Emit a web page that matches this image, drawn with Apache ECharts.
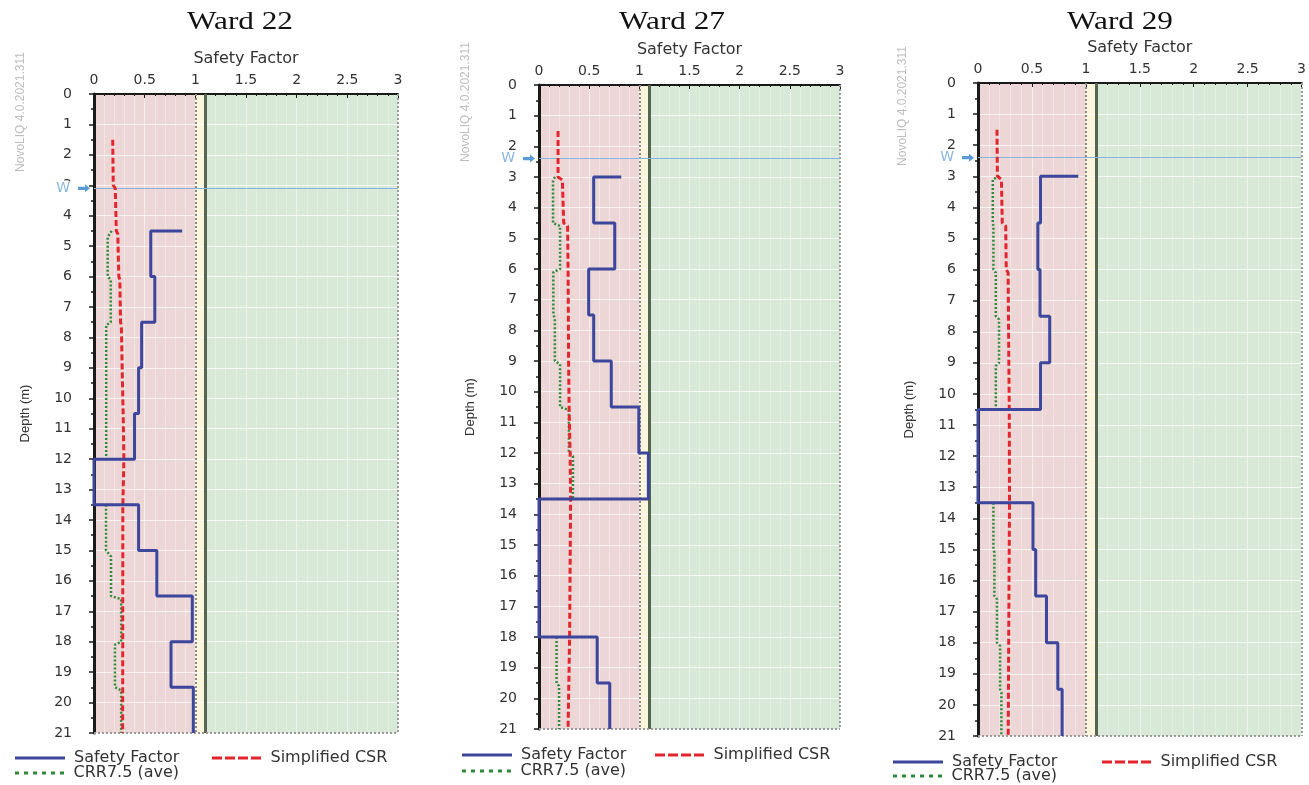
<!DOCTYPE html>
<html><head><meta charset="utf-8">
<script src="https://cdn.jsdelivr.net/npm/echarts@6/dist/echarts.min.js"></script>
<style>html,body{margin:0;padding:0;background:#fff}#c{width:1309px;height:785px}</style>
</head><body><div id="c"></div>
<script>
// ---------- data ----------
const wardNames = ['Ward 22', 'Ward 27', 'Ward 29'];
const xAxisName = 'Safety Factor';
const yAxisName = 'Depth (m)';
const watermark = 'NovoLIQ 4.0.2021.311';
const xMin = 0, xMax = 3, xStep = 0.5;
const depthMin = 0, depthMax = 21, depthStep = 1;
const zoneEdges = [0, 1, 1.1, 3];          // liquefiable / marginal / safe zones
const waterDepth = [3.1, 2.4, 2.4];        // "W" water table depth per ward
const seriesNames = ['Safety Factor', 'Simplified CSR', 'CRR7.5 (ave)'];

// Ward 22
const sf22Depth  = [4.5, 4.5, 6, 6, 7.5, 7.5, 9, 9, 10.5, 10.5, 12, 12, 13.5, 13.5, 15, 15, 16.5, 16.5, 18, 18, 19.5, 19.5, 21];
const sf22Value  = [0.87, 0.56, 0.56, 0.60, 0.60, 0.47, 0.47, 0.44, 0.44, 0.40, 0.40, 0, 0, 0.44, 0.44, 0.62, 0.62, 0.97, 0.97, 0.76, 0.76, 0.98, 0.98];
const csr22Depth = [1.5, 3, 3.1, 4.5, 4.6, 6, 6.1, 7.5, 7.6, 9, 10.5, 12, 13.5, 21];
const csr22Value = [0.185, 0.19, 0.21, 0.22, 0.235, 0.245, 0.255, 0.262, 0.27, 0.278, 0.288, 0.295, 0.285, 0.283];
const crr22Depth = [4.5, 4.7, 6, 6.1, 7.5, 7.6, 12, null, 13.5, 15, 15.2, 16.5, 16.6, 18, 18.1, 19.5, 19.6, 21];
const crr22Value = [0.175, 0.135, 0.135, 0.165, 0.165, 0.12, 0.12, null, 0.118, 0.118, 0.168, 0.168, 0.268, 0.268, 0.207, 0.207, 0.268, 0.268];

// Ward 27
const sf27Depth  = [3, 3, 4.5, 4.5, 6, 6, 7.5, 7.5, 9, 9, 10.5, 10.5, 12, 12, 13.5, 13.5, 18, 18, 19.5, 19.5, 21];
const sf27Value  = [0.82, 0.545, 0.545, 0.755, 0.755, 0.495, 0.495, 0.545, 0.545, 0.72, 0.72, 0.995, 0.995, 1.09, 1.09, 0, 0, 0.58, 0.58, 0.705, 0.705];
const csr27Depth = [1.5, 3, 3.1, 4.5, 4.6, 6, 9, 10.5, 12, 13.5, 18, 21];
const csr27Value = [0.19, 0.19, 0.233, 0.246, 0.285, 0.29, 0.295, 0.3, 0.31, 0.315, 0.305, 0.29];
const crr27Depth = [3, 3.1, 4.5, 4.6, 6, 6.1, 7.5, 7.6, 9, 9.1, 10.5, 10.6, 12, 12.1, 13.5, null, 18, 19.5, 19.6, 21];
const crr27Value = [0.16, 0.14, 0.14, 0.21, 0.21, 0.143, 0.143, 0.158, 0.158, 0.21, 0.21, 0.298, 0.298, 0.338, 0.338, null, 0.175, 0.175, 0.2, 0.2];

// Ward 29
const sf29Depth  = [3, 3, 4.5, 4.5, 6, 6, 7.5, 7.5, 9, 9, 10.5, 10.5, 13.5, 13.5, 15, 15, 16.5, 16.5, 18, 18, 19.5, 19.5, 21];
const sf29Value  = [0.93, 0.58, 0.58, 0.555, 0.555, 0.575, 0.575, 0.665, 0.665, 0.58, 0.58, 0, 0, 0.51, 0.51, 0.535, 0.535, 0.635, 0.635, 0.74, 0.74, 0.78, 0.78];
const csr29Depth = [1.5, 3, 3.1, 4.5, 4.6, 6, 6.1, 10.5, 13.5, 21];
const csr29Value = [0.176, 0.18, 0.217, 0.225, 0.257, 0.262, 0.279, 0.29, 0.292, 0.28];
const crr29Depth = [3, 3.1, 4.5, 4.6, 6, 6.1, 7.5, 7.6, 9, 9.1, 10.5, null, 13.5, 15, 15.1, 16.5, 16.6, 18, 18.1, 19.5, 19.6, 21];
const crr29Value = [0.2, 0.137, 0.137, 0.143, 0.143, 0.165, 0.165, 0.195, 0.195, 0.165, 0.165, null, 0.143, 0.143, 0.152, 0.152, 0.176, 0.176, 0.205, 0.205, 0.217, 0.217];

const wardSF  = [[sf22Value, sf22Depth], [sf27Value, sf27Depth], [sf29Value, sf29Depth]];
const wardCSR = [[csr22Value, csr22Depth], [csr27Value, csr27Depth], [csr29Value, csr29Depth]];
const wardCRR = [[crr22Value, crr22Depth], [crr27Value, crr27Depth], [crr29Value, crr29Depth]];

// ---------- layout / style ----------
const grids = [
  {left: 94, top: 94, width: 304, height: 639},
  {left: 539, top: 85, width: 301, height: 644},
  {left: 978, top: 83, width: 324, height: 653}
];
const titlePos = [[240, 22], [672, 22], [1120, 22]];
const markPos = [[21, 112], [466, 102], [903, 106]];
const legendPos = [
  [[15, 750], [212, 750], [15, 765]],
  [[462, 747], [655, 747], [462, 763]],
  [[893, 754], [1102, 754], [893, 768]]
];
const zoneColors = ['#ecd6d6', '#faf5dc', '#d8e9d8'];
const sansFont = 'DejaVu Sans';
const lineStyles = [
  {color: '#3b469c', width: 3, type: 'solid'},
  {color: '#e4252d', width: 3, type: [6, 3]},
  {color: '#2f8a3b', width: 2.5, type: [2, 2]}
];
// legend samples (50 x 3 px line patterns)
const legendIcons = [
  'path://M0,0H50V3H0Z',
  'path://M0,0H10V3H0Z M13,0H23V3H13Z M26,0H36V3H26Z M39,0H49V3H39Z',
  'path://M0,0H4V3H0Z M9,0H13V3H9Z M18,0H22V3H18Z M27,0H31V3H27Z M36,0H40V3H36Z M45,0H49V3H45Z'
];

function pairs(vals, depths) {
  return vals.map((v, i) => (v === null || depths[i] === null) ? ['-', '-'] : [v, depths[i]]);
}

const xAxes = [], yAxes = [], series = [], legends = [], graphics = [];
grids.forEach((g, i) => {
  xAxes.push({
    gridIndex: i, type: 'value', position: 'top', min: xMin, max: xMax, interval: xStep, z: 2,
    name: xAxisName, nameLocation: 'middle', nameGap: 27,
    nameTextStyle: {fontFamily: sansFont, fontSize: 16, color: '#333'},
    axisLine: {show: true, onZero: false, lineStyle: {color: '#1a1a1a', width: 2}},
    axisTick: {show: true, inside: true, length: 4, lineStyle: {color: '#1a1a1a'}},
    minorTick: {show: true, splitNumber: 5, length: 2, lineStyle: {color: '#1a1a1a'}},
    axisLabel: {margin: 7, fontFamily: sansFont, fontSize: 14, color: '#333'},
    splitLine: {show: true, lineStyle: {color: 'rgba(255,255,255,0.55)', width: 1}},
    minorSplitLine: {show: true, lineStyle: {color: 'rgba(255,255,255,0.35)', width: 1}}
  });
  yAxes.push({
    gridIndex: i, type: 'value', inverse: true, min: depthMin, max: depthMax, interval: depthStep, z: 2,
    name: yAxisName, nameLocation: 'middle', nameRotate: 90, nameGap: 62,
    nameTextStyle: {fontFamily: 'Liberation Sans', fontSize: 13, color: '#333'},
    axisLine: {show: true, onZero: false, lineStyle: {color: '#1a1a1a', width: 3}},
    axisTick: {show: true, inside: false, length: 5, lineStyle: {color: '#1a1a1a', width: 1.5}},
    minorTick: {show: true, splitNumber: 2, length: 3, lineStyle: {color: '#1a1a1a', width: 1.5}},
    axisLabel: {margin: 22, fontFamily: sansFont, fontSize: 14, color: '#333'},
    splitLine: {show: true, lineStyle: {color: 'rgba(255,255,255,0.7)', width: 1}}
  });
  // background zones, reference lines, water table
  series.push({
    type: 'line', name: 'bg', data: [], xAxisIndex: i, yAxisIndex: i, silent: true,
    markArea: {silent: true, z: 1, data: zoneColors.map((c, k) => [
      {xAxis: zoneEdges[k], itemStyle: {color: c}}, {xAxis: zoneEdges[k + 1]}
    ])},
    markLine: {silent: true, symbol: 'none', z: 3, label: {show: false}, data: [
      {xAxis: zoneEdges[1], lineStyle: {color: '#8a8a80', width: 2, type: [2, 2]}},
      {xAxis: zoneEdges[2], lineStyle: {color: '#56654f', width: 3, type: 'solid'}},
      {xAxis: zoneEdges[3], lineStyle: {color: '#9a9a9a', width: 2, type: [2, 2]}},
      {yAxis: depthMax, lineStyle: {color: '#9a9a9a', width: 2, type: [2, 2]}},
      {yAxis: waterDepth[i], lineStyle: {color: '#86b4e2', width: 1, type: 'solid'}}
    ]},
    markPoint: {silent: true, z: 6, data: [{
      coord: [xMin, waterDepth[i]],
      symbol: 'path://M0,3 L7,3 L7,0 L12,5 L7,10 L7,7 L0,7 Z',
      symbolSize: [12, 8], symbolOffset: [-10, 0],
      itemStyle: {color: '#5a9bd8'},
      label: {show: true, position: 'left', distance: 6, formatter: 'W', color: '#8ab6e2',
              fontFamily: sansFont, fontSize: 14, backgroundColor: '#fff', padding: [0, 2]}
    }]}
  });
  const sets = [wardCRR[i], wardCSR[i], wardSF[i]];
  const names = [seriesNames[2], seriesNames[1], seriesNames[0]];
  const styles = [lineStyles[2], lineStyles[1], lineStyles[0]];
  sets.forEach((s, k) => {
    series.push({
      type: 'line', name: names[k], xAxisIndex: i, yAxisIndex: i, data: pairs(s[0], s[1]),
      symbol: 'none', showSymbol: false, clip: false, z: 4 + k, connectNulls: false,
      lineStyle: styles[k], itemStyle: {color: styles[k].color}
    });
  });
  seriesNames.forEach((n, k) => {
    legends.push({
      data: [{name: n, icon: legendIcons[k], itemStyle: {color: lineStyles[k].color}}],
      left: legendPos[i][k][0], top: legendPos[i][k][1], padding: 0,
      itemWidth: 50, itemHeight: 3, selectedMode: false,
      textStyle: {fontFamily: sansFont, fontSize: 16, color: '#333', padding: [0, 0, 0, 4]}
    });
  });
  graphics.push({
    type: 'text', x: titlePos[i][0], y: titlePos[i][1], scaleX: 1.25,
    style: {text: wardNames[i], textAlign: 'center', textVerticalAlign: 'middle',
            font: '25px "Liberation Serif"', fill: '#111'}
  });
  graphics.push({
    type: 'text', x: markPos[i][0], y: markPos[i][1], rotation: Math.PI / 2,
    style: {text: watermark, textAlign: 'center', textVerticalAlign: 'middle',
            font: '12px "Liberation Sans"', fill: '#bdbdbd'}
  });
});

const chart = echarts.init(document.getElementById('c'), null, {renderer: 'canvas'});
chart.setOption({
  animation: false,
  backgroundColor: '#fff',
  grid: grids,
  xAxis: xAxes,
  yAxis: yAxes,
  legend: legends,
  series: series,
  graphic: graphics
});
</script></body></html>
